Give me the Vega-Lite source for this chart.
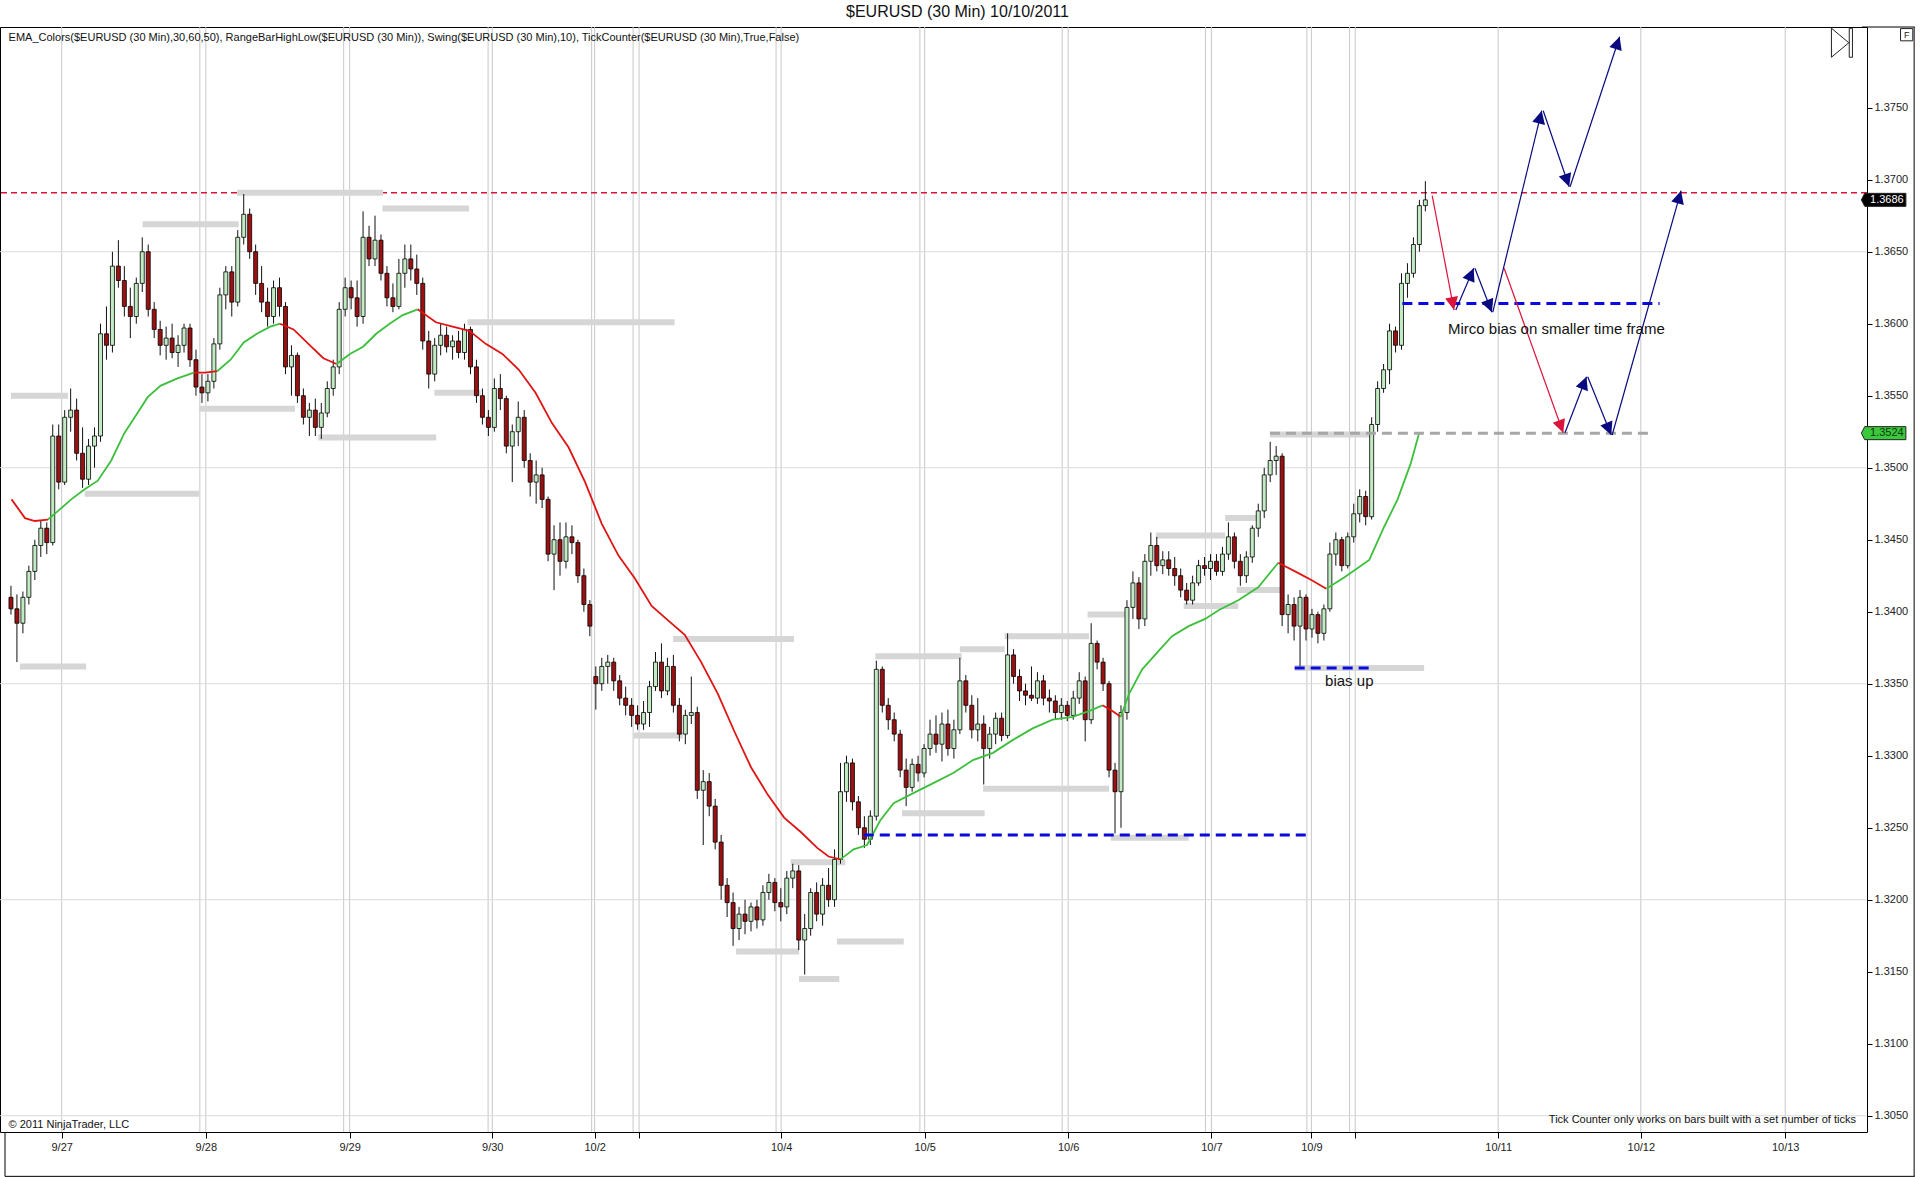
{
  "$schema": "https://vega.github.io/schema/vega-lite/v6.json",
  "width": 1867,
  "height": 1105,
  "autosize": "none",
  "padding": {"left": 0, "top": 27, "right": 53, "bottom": 45},
  "background": "white",
  "title": {"text": "$EURUSD (30 Min)  10/10/2011", "fontSize": 16, "font": "Liberation Sans", "fontWeight": "normal", "color": "#111", "anchor": "middle", "dx": 24, "offset": 6},
  "config": {
    "view": {"stroke": "#000", "strokeWidth": 1},
    "font": "Liberation Sans",
    "text": {"font": "Liberation Sans"}
  },
  "datasets": {
    "candles": [
      {"t":2,"o":1.341,"h":1.3418,"l":1.3398,"c":1.3402},
      {"t":4,"o":1.3402,"h":1.3412,"l":1.3365,"c":1.3392},
      {"t":6,"o":1.3392,"h":1.3414,"l":1.3385,"c":1.341},
      {"t":8,"o":1.341,"h":1.3432,"l":1.3405,"c":1.3428},
      {"t":10,"o":1.3428,"h":1.345,"l":1.3422,"c":1.3446},
      {"t":12,"o":1.3446,"h":1.3463,"l":1.3438,"c":1.3458},
      {"t":14,"o":1.3458,"h":1.3462,"l":1.344,"c":1.3448},
      {"t":16,"o":1.3448,"h":1.353,"l":1.3446,"c":1.3522},
      {"t":18,"o":1.3522,"h":1.353,"l":1.3485,"c":1.349},
      {"t":20,"o":1.349,"h":1.354,"l":1.3488,"c":1.3535},
      {"t":22,"o":1.3535,"h":1.3555,"l":1.3525,"c":1.354},
      {"t":24,"o":1.354,"h":1.3548,"l":1.3505,"c":1.351},
      {"t":26,"o":1.351,"h":1.3528,"l":1.3486,"c":1.3492},
      {"t":28,"o":1.3492,"h":1.352,"l":1.3488,"c":1.3515},
      {"t":30,"o":1.3515,"h":1.3528,"l":1.35,"c":1.3522},
      {"t":32,"o":1.3522,"h":1.36,"l":1.3518,"c":1.3593},
      {"t":34,"o":1.3593,"h":1.3612,"l":1.3575,"c":1.3585},
      {"t":36,"o":1.3585,"h":1.365,"l":1.358,"c":1.364},
      {"t":38,"o":1.364,"h":1.3658,"l":1.3625,"c":1.363},
      {"t":40,"o":1.363,"h":1.364,"l":1.3605,"c":1.3612},
      {"t":42,"o":1.3612,"h":1.3625,"l":1.359,"c":1.3605},
      {"t":44,"o":1.3605,"h":1.3632,"l":1.36,"c":1.3628},
      {"t":46,"o":1.3628,"h":1.366,"l":1.3622,"c":1.365},
      {"t":48,"o":1.365,"h":1.3655,"l":1.3605,"c":1.361},
      {"t":50,"o":1.361,"h":1.3615,"l":1.359,"c":1.3596},
      {"t":52,"o":1.3596,"h":1.3602,"l":1.3578,"c":1.3585},
      {"t":54,"o":1.3585,"h":1.3598,"l":1.3575,"c":1.359},
      {"t":56,"o":1.359,"h":1.36,"l":1.3576,"c":1.358},
      {"t":58,"o":1.358,"h":1.3592,"l":1.357,"c":1.3585},
      {"t":60,"o":1.3585,"h":1.36,"l":1.358,"c":1.3597},
      {"t":62,"o":1.3597,"h":1.36,"l":1.357,"c":1.3575},
      {"t":64,"o":1.3575,"h":1.3582,"l":1.355,"c":1.3556},
      {"t":66,"o":1.3556,"h":1.3565,"l":1.3545,"c":1.3552},
      {"t":68,"o":1.3552,"h":1.3565,"l":1.3546,"c":1.356},
      {"t":70,"o":1.356,"h":1.359,"l":1.3555,"c":1.3586},
      {"t":72,"o":1.3586,"h":1.3625,"l":1.3582,"c":1.362},
      {"t":74,"o":1.362,"h":1.364,"l":1.361,"c":1.3636},
      {"t":76,"o":1.3636,"h":1.364,"l":1.3605,"c":1.3615},
      {"t":78,"o":1.3615,"h":1.3665,"l":1.3612,"c":1.366},
      {"t":80,"o":1.366,"h":1.369,"l":1.3655,"c":1.3676},
      {"t":82,"o":1.3676,"h":1.368,"l":1.3645,"c":1.365},
      {"t":84,"o":1.365,"h":1.3655,"l":1.362,"c":1.3628},
      {"t":86,"o":1.3628,"h":1.364,"l":1.3608,"c":1.3615},
      {"t":88,"o":1.3615,"h":1.3625,"l":1.3598,"c":1.3605},
      {"t":90,"o":1.3605,"h":1.363,"l":1.36,"c":1.3625},
      {"t":92,"o":1.3625,"h":1.3632,"l":1.3605,"c":1.3612},
      {"t":94,"o":1.3612,"h":1.3615,"l":1.3565,"c":1.357},
      {"t":96,"o":1.357,"h":1.3585,"l":1.355,"c":1.3578},
      {"t":98,"o":1.3578,"h":1.358,"l":1.3545,"c":1.355},
      {"t":100,"o":1.355,"h":1.3555,"l":1.353,"c":1.3535},
      {"t":102,"o":1.3535,"h":1.3545,"l":1.3522,"c":1.354},
      {"t":104,"o":1.354,"h":1.3548,"l":1.3522,"c":1.3528},
      {"t":106,"o":1.3528,"h":1.3545,"l":1.352,"c":1.3538},
      {"t":108,"o":1.3538,"h":1.356,"l":1.3535,"c":1.3555},
      {"t":110,"o":1.3555,"h":1.3575,"l":1.355,"c":1.357},
      {"t":112,"o":1.357,"h":1.3615,"l":1.3565,"c":1.361},
      {"t":114,"o":1.361,"h":1.3632,"l":1.3605,"c":1.3625},
      {"t":116,"o":1.3625,"h":1.363,"l":1.361,"c":1.3618},
      {"t":118,"o":1.3618,"h":1.363,"l":1.3598,"c":1.3605},
      {"t":120,"o":1.3605,"h":1.3678,"l":1.36,"c":1.366},
      {"t":122,"o":1.366,"h":1.3668,"l":1.364,"c":1.3645},
      {"t":124,"o":1.3645,"h":1.3675,"l":1.364,"c":1.3658},
      {"t":126,"o":1.3658,"h":1.3662,"l":1.363,"c":1.3635},
      {"t":128,"o":1.3635,"h":1.364,"l":1.3612,"c":1.3618},
      {"t":130,"o":1.3618,"h":1.3628,"l":1.3608,"c":1.3612},
      {"t":132,"o":1.3612,"h":1.3645,"l":1.361,"c":1.3635},
      {"t":134,"o":1.3635,"h":1.3655,"l":1.3625,"c":1.3645},
      {"t":136,"o":1.3645,"h":1.3655,"l":1.363,"c":1.3638},
      {"t":138,"o":1.3638,"h":1.3648,"l":1.362,"c":1.3628},
      {"t":140,"o":1.3628,"h":1.3632,"l":1.3582,"c":1.3588},
      {"t":142,"o":1.3588,"h":1.3595,"l":1.3555,"c":1.3565},
      {"t":144,"o":1.3565,"h":1.359,"l":1.356,"c":1.3585},
      {"t":146,"o":1.3585,"h":1.36,"l":1.3578,"c":1.3592},
      {"t":148,"o":1.3592,"h":1.3598,"l":1.358,"c":1.3584},
      {"t":150,"o":1.3584,"h":1.3592,"l":1.3575,"c":1.3588},
      {"t":152,"o":1.3588,"h":1.3595,"l":1.3576,"c":1.358},
      {"t":154,"o":1.358,"h":1.36,"l":1.3575,"c":1.3596},
      {"t":156,"o":1.3596,"h":1.3598,"l":1.3565,"c":1.357},
      {"t":158,"o":1.357,"h":1.3575,"l":1.3545,"c":1.355},
      {"t":160,"o":1.355,"h":1.3555,"l":1.353,"c":1.3535},
      {"t":162,"o":1.3535,"h":1.354,"l":1.3522,"c":1.3528},
      {"t":164,"o":1.3528,"h":1.3562,"l":1.3525,"c":1.3555},
      {"t":166,"o":1.3555,"h":1.3565,"l":1.354,"c":1.3548},
      {"t":168,"o":1.3548,"h":1.355,"l":1.351,"c":1.3515},
      {"t":170,"o":1.3515,"h":1.353,"l":1.349,"c":1.3525},
      {"t":172,"o":1.3525,"h":1.3546,"l":1.3515,"c":1.3535},
      {"t":174,"o":1.3535,"h":1.354,"l":1.35,"c":1.3505},
      {"t":176,"o":1.3505,"h":1.351,"l":1.348,"c":1.349},
      {"t":178,"o":1.349,"h":1.3505,"l":1.3475,"c":1.3495},
      {"t":180,"o":1.3495,"h":1.35,"l":1.3472,"c":1.3478},
      {"t":182,"o":1.3478,"h":1.348,"l":1.3435,"c":1.344},
      {"t":184,"o":1.344,"h":1.346,"l":1.3415,"c":1.345},
      {"t":186,"o":1.345,"h":1.3462,"l":1.3425,"c":1.3435},
      {"t":188,"o":1.3435,"h":1.3462,"l":1.343,"c":1.3452},
      {"t":190,"o":1.3452,"h":1.346,"l":1.344,"c":1.3448},
      {"t":192,"o":1.3448,"h":1.345,"l":1.342,"c":1.3425},
      {"t":194,"o":1.3425,"h":1.343,"l":1.34,"c":1.3405},
      {"t":196,"o":1.3405,"h":1.3408,"l":1.3383,"c":1.339},
      {"t":198,"o":1.3355,"h":1.3362,"l":1.3332,"c":1.335},
      {"t":200,"o":1.335,"h":1.3368,"l":1.3345,"c":1.3362},
      {"t":202,"o":1.3362,"h":1.337,"l":1.335,"c":1.3365},
      {"t":204,"o":1.3365,"h":1.3368,"l":1.3345,"c":1.3352},
      {"t":206,"o":1.3352,"h":1.3356,"l":1.3335,"c":1.334},
      {"t":208,"o":1.334,"h":1.3348,"l":1.3328,"c":1.3335},
      {"t":210,"o":1.3335,"h":1.334,"l":1.332,"c":1.3328},
      {"t":212,"o":1.3328,"h":1.3335,"l":1.3318,"c":1.3322},
      {"t":214,"o":1.3322,"h":1.3338,"l":1.3318,"c":1.333},
      {"t":216,"o":1.333,"h":1.3352,"l":1.332,"c":1.3348},
      {"t":218,"o":1.3348,"h":1.3372,"l":1.3345,"c":1.3365},
      {"t":220,"o":1.3365,"h":1.3378,"l":1.334,"c":1.3345},
      {"t":222,"o":1.3345,"h":1.3368,"l":1.3342,"c":1.3362},
      {"t":224,"o":1.3362,"h":1.337,"l":1.333,"c":1.3335},
      {"t":226,"o":1.3335,"h":1.334,"l":1.331,"c":1.3315},
      {"t":228,"o":1.3315,"h":1.3332,"l":1.3308,"c":1.3328},
      {"t":230,"o":1.3328,"h":1.3355,"l":1.3322,"c":1.333},
      {"t":232,"o":1.333,"h":1.3334,"l":1.327,"c":1.3276},
      {"t":234,"o":1.3276,"h":1.329,"l":1.3238,"c":1.3282},
      {"t":236,"o":1.3282,"h":1.3288,"l":1.3258,"c":1.3265},
      {"t":238,"o":1.3265,"h":1.327,"l":1.3235,"c":1.324},
      {"t":240,"o":1.324,"h":1.3245,"l":1.32,"c":1.321},
      {"t":242,"o":1.321,"h":1.3215,"l":1.3188,"c":1.3198},
      {"t":244,"o":1.3198,"h":1.3205,"l":1.3168,"c":1.318},
      {"t":246,"o":1.318,"h":1.3195,"l":1.3172,"c":1.319},
      {"t":248,"o":1.319,"h":1.32,"l":1.3176,"c":1.3185},
      {"t":250,"o":1.3185,"h":1.3198,"l":1.3178,"c":1.3195},
      {"t":252,"o":1.3195,"h":1.32,"l":1.318,"c":1.3186},
      {"t":254,"o":1.3186,"h":1.321,"l":1.3182,"c":1.3205},
      {"t":256,"o":1.3205,"h":1.3218,"l":1.32,"c":1.3212},
      {"t":258,"o":1.3212,"h":1.3215,"l":1.3192,"c":1.3198},
      {"t":260,"o":1.3198,"h":1.3208,"l":1.3185,"c":1.3195},
      {"t":262,"o":1.3195,"h":1.322,"l":1.319,"c":1.3215},
      {"t":264,"o":1.3215,"h":1.3225,"l":1.3208,"c":1.322},
      {"t":266,"o":1.322,"h":1.3224,"l":1.3165,"c":1.3172},
      {"t":268,"o":1.3172,"h":1.319,"l":1.3148,"c":1.318},
      {"t":270,"o":1.318,"h":1.3208,"l":1.3175,"c":1.3205},
      {"t":272,"o":1.3205,"h":1.3212,"l":1.3185,"c":1.319},
      {"t":274,"o":1.319,"h":1.3215,"l":1.3182,"c":1.321},
      {"t":276,"o":1.321,"h":1.3222,"l":1.3195,"c":1.32},
      {"t":278,"o":1.32,"h":1.3235,"l":1.3195,"c":1.3228},
      {"t":280,"o":1.3228,"h":1.3295,"l":1.3225,"c":1.3275},
      {"t":282,"o":1.3275,"h":1.33,"l":1.3268,"c":1.3295},
      {"t":284,"o":1.3295,"h":1.3298,"l":1.3262,"c":1.3268},
      {"t":286,"o":1.3268,"h":1.3272,"l":1.3245,"c":1.325},
      {"t":288,"o":1.325,"h":1.3258,"l":1.3236,"c":1.3242},
      {"t":290,"o":1.3242,"h":1.3262,"l":1.3238,"c":1.3258},
      {"t":292,"o":1.3258,"h":1.3366,"l":1.3255,"c":1.336},
      {"t":294,"o":1.336,"h":1.3362,"l":1.333,"c":1.3335},
      {"t":296,"o":1.3335,"h":1.334,"l":1.3318,"c":1.3325},
      {"t":298,"o":1.3325,"h":1.333,"l":1.331,"c":1.3315},
      {"t":300,"o":1.3315,"h":1.3318,"l":1.3285,"c":1.329},
      {"t":302,"o":1.329,"h":1.3298,"l":1.3265,"c":1.3278},
      {"t":304,"o":1.3278,"h":1.3298,"l":1.3275,"c":1.3294},
      {"t":306,"o":1.3294,"h":1.33,"l":1.3282,"c":1.3288},
      {"t":308,"o":1.3288,"h":1.3308,"l":1.3285,"c":1.3305},
      {"t":310,"o":1.3305,"h":1.3325,"l":1.33,"c":1.3315},
      {"t":312,"o":1.3315,"h":1.3328,"l":1.3302,"c":1.3308},
      {"t":314,"o":1.3308,"h":1.333,"l":1.3296,"c":1.3322},
      {"t":316,"o":1.3322,"h":1.3332,"l":1.33,"c":1.3305},
      {"t":318,"o":1.3305,"h":1.3325,"l":1.3298,"c":1.3318},
      {"t":320,"o":1.3318,"h":1.3368,"l":1.3315,"c":1.3352},
      {"t":322,"o":1.3352,"h":1.3356,"l":1.333,"c":1.3335},
      {"t":324,"o":1.3335,"h":1.3342,"l":1.3312,"c":1.3318},
      {"t":326,"o":1.3318,"h":1.334,"l":1.331,"c":1.3322},
      {"t":328,"o":1.3322,"h":1.3328,"l":1.328,"c":1.3305},
      {"t":330,"o":1.3305,"h":1.332,"l":1.3298,"c":1.3315},
      {"t":332,"o":1.3315,"h":1.333,"l":1.3308,"c":1.3326},
      {"t":334,"o":1.3326,"h":1.333,"l":1.331,"c":1.3314},
      {"t":336,"o":1.3314,"h":1.3385,"l":1.3312,"c":1.337},
      {"t":338,"o":1.337,"h":1.3374,"l":1.335,"c":1.3355},
      {"t":340,"o":1.3355,"h":1.336,"l":1.3338,"c":1.3345},
      {"t":342,"o":1.3345,"h":1.335,"l":1.3335,"c":1.3342},
      {"t":344,"o":1.3342,"h":1.3362,"l":1.3338,"c":1.334},
      {"t":346,"o":1.334,"h":1.3358,"l":1.3336,"c":1.3352},
      {"t":348,"o":1.3352,"h":1.3356,"l":1.3335,"c":1.334},
      {"t":350,"o":1.334,"h":1.3346,"l":1.333,"c":1.3338},
      {"t":352,"o":1.3338,"h":1.3342,"l":1.3325,"c":1.333},
      {"t":354,"o":1.333,"h":1.334,"l":1.3325,"c":1.3335},
      {"t":356,"o":1.3335,"h":1.3338,"l":1.3324,"c":1.3328},
      {"t":358,"o":1.3328,"h":1.3345,"l":1.3325,"c":1.334},
      {"t":360,"o":1.334,"h":1.3358,"l":1.3336,"c":1.3352},
      {"t":362,"o":1.3352,"h":1.3355,"l":1.331,"c":1.3325},
      {"t":364,"o":1.3325,"h":1.3392,"l":1.3322,"c":1.3378},
      {"t":366,"o":1.3378,"h":1.338,"l":1.336,"c":1.3365},
      {"t":368,"o":1.3365,"h":1.3368,"l":1.3345,"c":1.335},
      {"t":370,"o":1.335,"h":1.3352,"l":1.3285,"c":1.329},
      {"t":372,"o":1.329,"h":1.3295,"l":1.3246,"c":1.3275},
      {"t":374,"o":1.3275,"h":1.3335,"l":1.325,"c":1.333},
      {"t":376,"o":1.333,"h":1.3408,"l":1.3325,"c":1.3403},
      {"t":378,"o":1.3403,"h":1.3428,"l":1.3395,"c":1.342},
      {"t":380,"o":1.342,"h":1.3424,"l":1.3388,"c":1.3395},
      {"t":382,"o":1.3395,"h":1.344,"l":1.339,"c":1.3435},
      {"t":384,"o":1.3435,"h":1.3455,"l":1.3425,"c":1.3446},
      {"t":386,"o":1.3446,"h":1.3452,"l":1.3428,"c":1.3432},
      {"t":388,"o":1.3432,"h":1.3442,"l":1.3426,"c":1.3436},
      {"t":390,"o":1.3436,"h":1.3442,"l":1.3425,"c":1.343},
      {"t":392,"o":1.343,"h":1.3438,"l":1.3418,"c":1.3425},
      {"t":394,"o":1.3425,"h":1.343,"l":1.341,"c":1.3415},
      {"t":396,"o":1.3415,"h":1.342,"l":1.3405,"c":1.3408},
      {"t":398,"o":1.3408,"h":1.3425,"l":1.3405,"c":1.342},
      {"t":400,"o":1.342,"h":1.3436,"l":1.3418,"c":1.3432},
      {"t":402,"o":1.3432,"h":1.3438,"l":1.3425,"c":1.343},
      {"t":404,"o":1.343,"h":1.344,"l":1.3422,"c":1.3435},
      {"t":406,"o":1.3435,"h":1.344,"l":1.3425,"c":1.3428},
      {"t":408,"o":1.3428,"h":1.3445,"l":1.3425,"c":1.344},
      {"t":410,"o":1.344,"h":1.3462,"l":1.3436,"c":1.3452},
      {"t":412,"o":1.3452,"h":1.3455,"l":1.343,"c":1.3435},
      {"t":414,"o":1.3435,"h":1.344,"l":1.3418,"c":1.3425},
      {"t":416,"o":1.3425,"h":1.3442,"l":1.342,"c":1.3438},
      {"t":418,"o":1.3438,"h":1.346,"l":1.3434,"c":1.3458},
      {"t":420,"o":1.3458,"h":1.3475,"l":1.3452,"c":1.347},
      {"t":422,"o":1.347,"h":1.35,"l":1.3465,"c":1.3495},
      {"t":424,"o":1.3495,"h":1.3518,"l":1.349,"c":1.3505},
      {"t":426,"o":1.3505,"h":1.3515,"l":1.3495,"c":1.3508},
      {"t":428,"o":1.3508,"h":1.351,"l":1.339,"c":1.3398},
      {"t":430,"o":1.3398,"h":1.3412,"l":1.3385,"c":1.3405},
      {"t":432,"o":1.3405,"h":1.341,"l":1.338,"c":1.339},
      {"t":434,"o":1.339,"h":1.3415,"l":1.3362,"c":1.341},
      {"t":436,"o":1.341,"h":1.3412,"l":1.338,"c":1.3388},
      {"t":438,"o":1.3388,"h":1.3402,"l":1.3382,"c":1.3398},
      {"t":440,"o":1.3398,"h":1.34,"l":1.3378,"c":1.3385},
      {"t":442,"o":1.3385,"h":1.3405,"l":1.338,"c":1.3402},
      {"t":444,"o":1.3402,"h":1.3448,"l":1.34,"c":1.344},
      {"t":446,"o":1.344,"h":1.3455,"l":1.3432,"c":1.345},
      {"t":448,"o":1.345,"h":1.3452,"l":1.3428,"c":1.3432},
      {"t":450,"o":1.3432,"h":1.3455,"l":1.343,"c":1.3452},
      {"t":452,"o":1.3452,"h":1.3475,"l":1.3448,"c":1.3468},
      {"t":454,"o":1.3468,"h":1.3485,"l":1.3462,"c":1.348},
      {"t":456,"o":1.348,"h":1.3484,"l":1.346,"c":1.3466},
      {"t":458,"o":1.3466,"h":1.3535,"l":1.3464,"c":1.353},
      {"t":460,"o":1.353,"h":1.356,"l":1.3525,"c":1.3555},
      {"t":462,"o":1.3555,"h":1.3572,"l":1.3552,"c":1.3568},
      {"t":464,"o":1.3568,"h":1.36,"l":1.3558,"c":1.3595},
      {"t":466,"o":1.3595,"h":1.3598,"l":1.358,"c":1.3585},
      {"t":468,"o":1.3585,"h":1.3635,"l":1.3582,"c":1.3628},
      {"t":470,"o":1.3628,"h":1.3642,"l":1.3618,"c":1.3635},
      {"t":472,"o":1.3635,"h":1.366,"l":1.3632,"c":1.3655},
      {"t":474,"o":1.3655,"h":1.3686,"l":1.365,"c":1.3682},
      {"t":476,"o":1.3682,"h":1.3699,"l":1.3678,"c":1.3686}
    ],
    "ema": [
      {"t":2.2,"p":1.3478,"s":1,"k":"dn"},{"t":6.7,"p":1.3465,"s":1,"k":"dn"},{"t":10,"p":1.3463,"s":1,"k":"dn"},{"t":14.4,"p":1.3464,"s":1,"k":"dn"},
      {"t":14.4,"p":1.3464,"s":2,"k":"up"},{"t":17.8,"p":1.347,"s":2,"k":"up"},{"t":22.2,"p":1.3478,"s":2,"k":"up"},{"t":26.7,"p":1.3485,"s":2,"k":"up"},{"t":31.1,"p":1.3491,"s":2,"k":"up"},{"t":35.6,"p":1.3505,"s":2,"k":"up"},{"t":40,"p":1.3524,"s":2,"k":"up"},{"t":44.4,"p":1.3538,"s":2,"k":"up"},{"t":47.8,"p":1.3549,"s":2,"k":"up"},{"t":52.2,"p":1.3557,"s":2,"k":"up"},{"t":57.8,"p":1.3562,"s":2,"k":"up"},{"t":63.3,"p":1.3566,"s":2,"k":"up"},
      {"t":63.3,"p":1.3566,"s":3,"k":"dn"},{"t":67,"p":1.3566,"s":3,"k":"dn"},{"t":71.1,"p":1.3567,"s":3,"k":"dn"},
      {"t":71.1,"p":1.3567,"s":4,"k":"up"},{"t":75.6,"p":1.3575,"s":4,"k":"up"},{"t":80,"p":1.3587,"s":4,"k":"up"},{"t":84.4,"p":1.3593,"s":4,"k":"up"},{"t":88.9,"p":1.3598,"s":4,"k":"up"},{"t":92.2,"p":1.36,"s":4,"k":"up"},
      {"t":92.2,"p":1.36,"s":5,"k":"dn"},{"t":96.7,"p":1.3596,"s":5,"k":"dn"},{"t":102.2,"p":1.3585,"s":5,"k":"dn"},{"t":106.7,"p":1.3576,"s":5,"k":"dn"},{"t":111.1,"p":1.3572,"s":5,"k":"dn"},
      {"t":111.1,"p":1.3572,"s":6,"k":"up"},{"t":115.6,"p":1.3579,"s":6,"k":"up"},{"t":120,"p":1.3584,"s":6,"k":"up"},{"t":124.4,"p":1.3593,"s":6,"k":"up"},{"t":128.9,"p":1.36,"s":6,"k":"up"},{"t":133.3,"p":1.3606,"s":6,"k":"up"},{"t":138.3,"p":1.361,"s":6,"k":"up"},
      {"t":138.3,"p":1.361,"s":7,"k":"dn"},{"t":144.4,"p":1.3601,"s":7,"k":"dn"},{"t":150,"p":1.3598,"s":7,"k":"dn"},{"t":155.6,"p":1.3595,"s":7,"k":"dn"},{"t":161.1,"p":1.3586,"s":7,"k":"dn"},{"t":166.7,"p":1.3579,"s":7,"k":"dn"},{"t":172.2,"p":1.3568,"s":7,"k":"dn"},{"t":177.8,"p":1.3552,"s":7,"k":"dn"},{"t":183.3,"p":1.3531,"s":7,"k":"dn"},{"t":188.9,"p":1.3514,"s":7,"k":"dn"},{"t":194.4,"p":1.349,"s":7,"k":"dn"},{"t":200,"p":1.3461,"s":7,"k":"dn"},{"t":205.6,"p":1.3439,"s":7,"k":"dn"},{"t":211.1,"p":1.3423,"s":7,"k":"dn"},{"t":216.7,"p":1.3404,"s":7,"k":"dn"},{"t":222.2,"p":1.3394,"s":7,"k":"dn"},{"t":227.8,"p":1.3384,"s":7,"k":"dn"},{"t":233.3,"p":1.3365,"s":7,"k":"dn"},{"t":238.9,"p":1.3343,"s":7,"k":"dn"},{"t":244.4,"p":1.3317,"s":7,"k":"dn"},{"t":250,"p":1.3292,"s":7,"k":"dn"},{"t":255.6,"p":1.3273,"s":7,"k":"dn"},{"t":261.1,"p":1.3257,"s":7,"k":"dn"},{"t":266.7,"p":1.3247,"s":7,"k":"dn"},{"t":272.2,"p":1.3236,"s":7,"k":"dn"},{"t":276,"p":1.323,"s":7,"k":"dn"},{"t":280,"p":1.3228,"s":7,"k":"dn"},
      {"t":280,"p":1.3228,"s":8,"k":"up"},{"t":284.4,"p":1.3235,"s":8,"k":"up"},{"t":288.9,"p":1.3238,"s":8,"k":"up"},{"t":293.3,"p":1.3255,"s":8,"k":"up"},{"t":297.8,"p":1.3267,"s":8,"k":"up"},{"t":304.4,"p":1.3274,"s":8,"k":"up"},{"t":311.1,"p":1.3281,"s":8,"k":"up"},{"t":317.8,"p":1.3288,"s":8,"k":"up"},{"t":324.4,"p":1.3297,"s":8,"k":"up"},{"t":331.1,"p":1.3302,"s":8,"k":"up"},{"t":337.8,"p":1.3311,"s":8,"k":"up"},{"t":344.4,"p":1.3319,"s":8,"k":"up"},{"t":351.1,"p":1.3325,"s":8,"k":"up"},{"t":357.8,"p":1.3327,"s":8,"k":"up"},{"t":363.3,"p":1.3331,"s":8,"k":"up"},{"t":367.8,"p":1.3335,"s":8,"k":"up"},
      {"t":367.8,"p":1.3335,"s":9,"k":"dn"},{"t":371.1,"p":1.3331,"s":9,"k":"dn"},{"t":373.9,"p":1.3327,"s":9,"k":"dn"},
      {"t":373.9,"p":1.3327,"s":10,"k":"up"},{"t":376.7,"p":1.3343,"s":10,"k":"up"},{"t":381.1,"p":1.336,"s":10,"k":"up"},{"t":386.7,"p":1.3373,"s":10,"k":"up"},{"t":391.1,"p":1.3383,"s":10,"k":"up"},{"t":396.7,"p":1.339,"s":10,"k":"up"},{"t":402.2,"p":1.3395,"s":10,"k":"up"},{"t":406.7,"p":1.3401,"s":10,"k":"up"},{"t":413.3,"p":1.3408,"s":10,"k":"up"},{"t":420,"p":1.3417,"s":10,"k":"up"},{"t":426.7,"p":1.3434,"s":10,"k":"up"},
      {"t":426.7,"p":1.3434,"s":11,"k":"dn"},{"t":433.3,"p":1.3427,"s":11,"k":"dn"},{"t":437.8,"p":1.3422,"s":11,"k":"dn"},{"t":442.8,"p":1.3416,"s":11,"k":"dn"},
      {"t":442.8,"p":1.3416,"s":12,"k":"up"},{"t":448.9,"p":1.3424,"s":12,"k":"up"},{"t":457.2,"p":1.3436,"s":12,"k":"up"},{"t":462.2,"p":1.3459,"s":12,"k":"up"},{"t":466.7,"p":1.3478,"s":12,"k":"up"},{"t":471.1,"p":1.3503,"s":12,"k":"up"},{"t":473.9,"p":1.3524,"s":12,"k":"up"}
    ],
    "swings": [
      {"x1":5,"x2":27.2,"p":1.3362},{"x1":2,"x2":21.1,"p":1.355},{"x1":26.7,"x2":65,"p":1.3482},{"x1":46.1,"x2":78.3,"p":1.3669},
      {"x1":65,"x2":97.2,"p":1.3541},{"x1":77.8,"x2":126.7,"p":1.3691},{"x1":105,"x2":144.5,"p":1.3521},{"x1":126.5,"x2":155.5,"p":1.368},
      {"x1":155,"x2":224.4,"p":1.3601},{"x1":143.9,"x2":159.4,"p":1.3552},{"x1":223.9,"x2":264.4,"p":1.3381},{"x1":210.6,"x2":227.2,"p":1.3314},
      {"x1":245,"x2":266.1,"p":1.3164},{"x1":266.1,"x2":279.6,"p":1.3145},{"x1":263.3,"x2":281.6,"p":1.3226},{"x1":278.8,"x2":301.2,"p":1.3171},
      {"x1":291.7,"x2":320.6,"p":1.3369},{"x1":320,"x2":335,"p":1.3374},{"x1":335,"x2":363.3,"p":1.3383},{"x1":300.6,"x2":328.3,"p":1.326},
      {"x1":327.8,"x2":370,"p":1.3277},{"x1":362.8,"x2":375.6,"p":1.3398},{"x1":370.6,"x2":396.7,"p":1.3243},{"x1":385.7,"x2":408.9,"p":1.3453},
      {"x1":408.9,"x2":420,"p":1.3465},{"x1":395,"x2":413.3,"p":1.3404},{"x1":412.8,"x2":427.8,"p":1.3415},{"x1":423.9,"x2":457.8,"p":1.3523},
      {"x1":432.2,"x2":475.6,"p":1.3361}
    ],
    "dashes": [
      {"x1":287.8,"x2":437.6,"p":1.3245,"k":"blue"},
      {"x1":432.2,"x2":458.9,"p":1.3361,"k":"blue"},
      {"x1":468.3,"x2":554.5,"p":1.3614,"k":"blue"},
      {"x1":423.9,"x2":551,"p":1.3524,"k":"gray"}
    ],
    "arrows": [
      {"x1":478.3,"p1":1.3689,"x2":485.6,"p2":1.36095,"k":"red"},
      {"x1":502.4,"p1":1.36385,"x2":522.2,"p2":1.35243,"k":"red"},
      {"x1":486.2,"p1":1.36095,"x2":492.2,"p2":1.36385,"k":"blue"},
      {"x1":492.6,"p1":1.36385,"x2":498.3,"p2":1.3608,"k":"blue"},
      {"x1":498.6,"p1":1.3608,"x2":515,"p2":1.37479,"k":"blue"},
      {"x1":515.5,"p1":1.37479,"x2":524.2,"p2":1.36951,"k":"blue"},
      {"x1":524.5,"p1":1.36951,"x2":541.1,"p2":1.37993,"k":"blue"},
      {"x1":522.8,"p1":1.35243,"x2":530,"p2":1.35632,"k":"blue"},
      {"x1":530.4,"p1":1.35632,"x2":538.3,"p2":1.35227,"k":"blue"},
      {"x1":538.6,"p1":1.35227,"x2":561.7,"p2":1.36924,"k":"blue"}
    ],
    "vgrid": [
      {"t":19.0},{"t":65.3},{"t":67.3},{"t":113.5},{"t":115.5},{"t":161.9},{"t":163.3},{"t":196.6},{"t":197.6},{"t":210.5},{"t":212.5},
      {"t":258.4},{"t":260.1},{"t":306.6},{"t":308.2},{"t":354.3},{"t":356.3},{"t":402.3},{"t":404.3},{"t":436.3},{"t":437.8},{"t":450.6},{"t":452.5},
      {"t":500.4},{"t":548.2},{"t":596.6}
    ],
    "hgrid": [{"p":1.305},{"p":1.32},{"p":1.335},{"p":1.35},{"p":1.365}],
    "frame": [
      {"x1":622.33,"x2":640,"p1":1.380604,"p2":1.380604},
      {"x1":639.8,"x2":639.8,"p1":1.380604,"p2":1.30079},
      {"x1":0,"x2":640,"p1":1.30079,"p2":1.30079},
      {"x1":0,"x2":0,"p1":1.30387,"p2":1.30079}
    ],
    "notesLeft": [
      {"t":1.2,"p":1.37984,"txt":"EMA_Colors($EURUSD (30 Min),30,60,50), RangeBarHighLow($EURUSD (30 Min)), Swing($EURUSD (30 Min),10), TickCounter($EURUSD (30 Min),True,False)"},
      {"t":1.2,"p":1.30435,"txt":"© 2011 NinjaTrader, LLC"}
    ],
    "notesRight": [
      {"t":620.3,"p":1.3047,"txt":"Tick Counter only works on bars built with a set number of ticks"}
    ],
    "labels": [
      {"t":483.6,"p":1.35961,"txt":"Mirco bias on smaller time frame"},
      {"t":442.4,"p":1.3352,"txt":"bias up"}
    ],
    "tags": [
      {"p":1.3686,"txt":"1.3686","k":"last"},
      {"p":1.3524,"txt":"1.3524","k":"ema"}
    ]
  },
  "layer": [
    {
      "data": {"name": "candles"},
      "mark": {"type": "rule", "color": "#111", "strokeWidth": 1, "opacity": 0},
      "encoding": {
        "x": {"field": "t", "type": "quantitative", "scale": {"domain": [0, 622.33], "nice": false, "zero": false},
          "axis": {"orient": "bottom", "title": null, "domain": false, "grid": false, "tickSize": 6, "tickColor": "#000",
            "values": [19.0, 67.3, 115.5, 163.3, 197.6, 212.5, 260.1, 308.2, 356.3, 404.3, 437.8, 452.5, 500.4, 548.2, 596.6],
            "labelExpr": "datum.value < 30 ? '9/27' : datum.value < 80 ? '9/28' : datum.value < 130 ? '9/29' : datum.value < 180 ? '9/30' : datum.value < 205 ? '10/2' : datum.value < 230 ? '' : datum.value < 280 ? '10/4' : datum.value < 330 ? '10/5' : datum.value < 380 ? '10/6' : datum.value < 420 ? '10/7' : datum.value < 445 ? '10/9' : datum.value < 470 ? '' : datum.value < 520 ? '10/11' : datum.value < 570 ? '10/12' : '10/13'",
            "labelFont": "Liberation Sans", "labelFontSize": 11, "labelColor": "#222", "labelPadding": 3, "labelOverlap": false, "labelFlush": false, "labelBound": false}},
        "y": {"field": "l", "type": "quantitative", "scale": {"domain": [1.30387, 1.380604], "nice": false, "zero": false},
          "axis": {"orient": "right", "title": null, "domain": false, "grid": false, "tickSize": 5, "tickColor": "#000",
            "values": [1.305, 1.31, 1.315, 1.32, 1.325, 1.33, 1.335, 1.34, 1.345, 1.35, 1.355, 1.36, 1.365, 1.37, 1.375],
            "format": ".4f", "labelFont": "Liberation Sans", "labelFontSize": 11, "labelColor": "#222", "labelPadding": 2, "labelOverlap": false, "labelFlush": false, "labelBound": false}},
        "y2": {"field": "h"}
      }
    },
    {
      "data": {"name": "vgrid"},
      "mark": {"type": "rule", "color": "#c8c8c8", "strokeWidth": 1},
      "encoding": {
        "x": {"field": "t", "type": "quantitative", "scale": {"domain": [0, 622.33], "nice": false, "zero": false}}
      }
    },
    {
      "data": {"name": "hgrid"},
      "mark": {"type": "rule", "color": "#dcdcdc", "strokeWidth": 1},
      "encoding": {
        "y": {"field": "p", "type": "quantitative", "scale": {"domain": [1.30387, 1.380604], "nice": false, "zero": false}}
      }
    },
    {
      "data": {"values": [{"p": 1.3691}]},
      "mark": {"type": "rule", "color": "#dc143c", "strokeWidth": 1.5, "strokeDash": [6, 4]},
      "encoding": {
        "y": {"field": "p", "type": "quantitative", "scale": {"domain": [1.30387, 1.380604], "nice": false, "zero": false}}
      }
    },
    {
      "data": {"name": "swings"},
      "mark": {"type": "rule", "color": "#d6d6d6", "strokeWidth": 6},
      "encoding": {
        "x": {"field": "x1", "type": "quantitative", "scale": {"domain": [0, 622.33], "nice": false, "zero": false}},
        "x2": {"field": "x2"},
        "y": {"field": "p", "type": "quantitative", "scale": {"domain": [1.30387, 1.380604], "nice": false, "zero": false}}
      }
    },
    {
      "data": {"name": "candles"},
      "layer": [
        {
          "mark": {"type": "rule", "color": "#111", "strokeWidth": 1},
          "encoding": {
            "x": {"field": "t", "type": "quantitative", "scale": {"domain": [0, 622.33], "nice": false, "zero": false}},
            "y": {"field": "l", "type": "quantitative", "scale": {"domain": [1.30387, 1.380604], "nice": false, "zero": false}},
            "y2": {"field": "h"}
          }
        },
        {
          "mark": {"type": "bar", "width": 4, "stroke": "#000", "strokeWidth": 0.8},
          "encoding": {
            "x": {"field": "t", "type": "quantitative", "scale": {"domain": [0, 622.33], "nice": false, "zero": false}},
            "y": {"field": "o", "type": "quantitative", "scale": {"domain": [1.30387, 1.380604], "nice": false, "zero": false}},
            "y2": {"field": "c"},
            "fill": {"condition": {"test": "datum.c >= datum.o", "value": "#c3ebc3"}, "value": "#9b1111"}
          }
        }
      ]
    },
    {
      "data": {"name": "ema"},
      "mark": {"type": "line", "strokeWidth": 1.8},
      "encoding": {
        "x": {"field": "t", "type": "quantitative", "scale": {"domain": [0, 622.33], "nice": false, "zero": false}},
        "y": {"field": "p", "type": "quantitative", "scale": {"domain": [1.30387, 1.380604], "nice": false, "zero": false}},
        "detail": {"field": "s", "type": "nominal"},
        "color": {"condition": {"test": "datum.k == 'up'", "value": "#3cbf3c"}, "value": "#e01414"}
      }
    },
    {
      "data": {"name": "dashes"},
      "mark": {"type": "rule", "strokeWidth": 3, "strokeDash": [10, 6]},
      "encoding": {
        "x": {"field": "x1", "type": "quantitative", "scale": {"domain": [0, 622.33], "nice": false, "zero": false}},
        "x2": {"field": "x2"},
        "y": {"field": "p", "type": "quantitative", "scale": {"domain": [1.30387, 1.380604], "nice": false, "zero": false}},
        "color": {"condition": {"test": "datum.k == 'blue'", "value": "#0a0ae0"}, "value": "#a6a6a6"}
      }
    },
    {
      "data": {"name": "arrows"},
      "layer": [
        {
          "mark": {"type": "rule", "strokeWidth": 1.2},
          "encoding": {
            "x": {"field": "x1", "type": "quantitative", "scale": {"domain": [0, 622.33], "nice": false, "zero": false}},
            "x2": {"field": "x2"},
            "y": {"field": "p1", "type": "quantitative", "scale": {"domain": [1.30387, 1.380604], "nice": false, "zero": false}},
            "y2": {"field": "p2"},
            "color": {"condition": {"test": "datum.k == 'red'", "value": "#dc143c"}, "value": "#0a0a80"}
          }
        },
        {
          "transform": [{"calculate": "atan2((datum.x2 - datum.x1) * 3, (datum.p2 - datum.p1) * 14400) * 180 / PI", "as": "ang"}],
          "mark": {"type": "point", "shape": "M 0 0 L -1 2 L 1 2 Z", "filled": true, "opacity": 1, "size": 169},
          "encoding": {
            "x": {"field": "x2", "type": "quantitative", "scale": {"domain": [0, 622.33], "nice": false, "zero": false}},
            "y": {"field": "p2", "type": "quantitative", "scale": {"domain": [1.30387, 1.380604], "nice": false, "zero": false}},
            "angle": {"field": "ang", "type": "quantitative", "scale": null},
            "color": {"condition": {"test": "datum.k == 'red'", "value": "#dc143c"}, "value": "#0a0a80"}
          }
        }
      ]
    },
    {
      "data": {"name": "notesLeft"},
      "mark": {"type": "text", "align": "left", "baseline": "middle", "fontSize": 11, "color": "#111", "font": "Liberation Sans"},
      "encoding": {
        "x": {"field": "t", "type": "quantitative", "scale": {"domain": [0, 622.33], "nice": false, "zero": false}},
        "y": {"field": "p", "type": "quantitative", "scale": {"domain": [1.30387, 1.380604], "nice": false, "zero": false}},
        "text": {"field": "txt"}
      }
    },
    {
      "data": {"name": "notesRight"},
      "mark": {"type": "text", "align": "right", "baseline": "middle", "fontSize": 11, "color": "#111", "font": "Liberation Sans"},
      "encoding": {
        "x": {"field": "t", "type": "quantitative", "scale": {"domain": [0, 622.33], "nice": false, "zero": false}},
        "y": {"field": "p", "type": "quantitative", "scale": {"domain": [1.30387, 1.380604], "nice": false, "zero": false}},
        "text": {"field": "txt"}
      }
    },
    {
      "data": {"name": "labels"},
      "mark": {"type": "text", "align": "left", "baseline": "middle", "fontSize": 15, "color": "#111", "font": "Liberation Sans"},
      "encoding": {
        "x": {"field": "t", "type": "quantitative", "scale": {"domain": [0, 622.33], "nice": false, "zero": false}},
        "y": {"field": "p", "type": "quantitative", "scale": {"domain": [1.30387, 1.380604], "nice": false, "zero": false}},
        "text": {"field": "txt"}
      }
    },
    {
      "data": {"name": "tags"},
      "layer": [
        {
          "mark": {"type": "point", "shape": "M -1.12 0 L -0.96 -0.31 L 1 -0.31 L 1 0.31 L -0.96 0.31 Z", "filled": true, "opacity": 1, "size": 1764, "stroke": "#222", "strokeWidth": 1},
          "encoding": {
            "x": {"datum": 630, "type": "quantitative", "scale": {"domain": [0, 622.33], "nice": false, "zero": false}},
            "y": {"field": "p", "type": "quantitative", "scale": {"domain": [1.30387, 1.380604], "nice": false, "zero": false}},
            "fill": {"condition": {"test": "datum.k == 'last'", "value": "#000000"}, "value": "#3cc83c"}
          }
        },
        {
          "mark": {"type": "text", "align": "center", "baseline": "middle", "fontSize": 11, "font": "Liberation Sans", "dx": 2},
          "encoding": {
            "x": {"datum": 630, "type": "quantitative", "scale": {"domain": [0, 622.33], "nice": false, "zero": false}},
            "y": {"field": "p", "type": "quantitative", "scale": {"domain": [1.30387, 1.380604], "nice": false, "zero": false}},
            "text": {"field": "txt"},
            "color": {"condition": {"test": "datum.k == 'last'", "value": "#ffffff"}, "value": "#0a3a0a"}
          }
        }
      ]
    },
    {
      "data": {"values": [{"t": 615, "p": 1.37951}]},
      "mark": {"type": "point", "shape": "M -0.6 -1 L 0.6 0 L -0.6 1 Z M 0.63 -1 L 0.85 -1 L 0.85 1 L 0.63 1 Z", "filled": false, "size": 841, "stroke": "#222", "strokeWidth": 1, "opacity": 1},
      "encoding": {
        "x": {"field": "t", "type": "quantitative", "scale": {"domain": [0, 622.33], "nice": false, "zero": false}},
        "y": {"field": "p", "type": "quantitative", "scale": {"domain": [1.30387, 1.380604], "nice": false, "zero": false}}
      }
    },
    {
      "data": {"values": [{"t": 637.3, "p": 1.38007, "txt": "F"}]},
      "layer": [
        {
          "mark": {"type": "point", "shape": "square", "filled": true, "fill": "white", "size": 150, "stroke": "#222", "strokeWidth": 1, "opacity": 1},
          "encoding": {
            "x": {"field": "t", "type": "quantitative", "scale": {"domain": [0, 622.33], "nice": false, "zero": false}},
            "y": {"field": "p", "type": "quantitative", "scale": {"domain": [1.30387, 1.380604], "nice": false, "zero": false}}
          }
        },
        {
          "mark": {"type": "text", "align": "center", "baseline": "middle", "fontSize": 9, "color": "#222", "font": "Liberation Sans"},
          "encoding": {
            "x": {"field": "t", "type": "quantitative", "scale": {"domain": [0, 622.33], "nice": false, "zero": false}},
            "y": {"field": "p", "type": "quantitative", "scale": {"domain": [1.30387, 1.380604], "nice": false, "zero": false}},
            "text": {"field": "txt"}
          }
        }
      ]
    },
    {
      "data": {"name": "frame"},
      "mark": {"type": "rule", "color": "#000", "strokeWidth": 1},
      "encoding": {
        "x": {"field": "x1", "type": "quantitative", "scale": {"domain": [0, 622.33], "nice": false, "zero": false}},
        "x2": {"field": "x2"},
        "y": {"field": "p1", "type": "quantitative", "scale": {"domain": [1.30387, 1.380604], "nice": false, "zero": false}},
        "y2": {"field": "p2"}
      }
    }
  ]
}
